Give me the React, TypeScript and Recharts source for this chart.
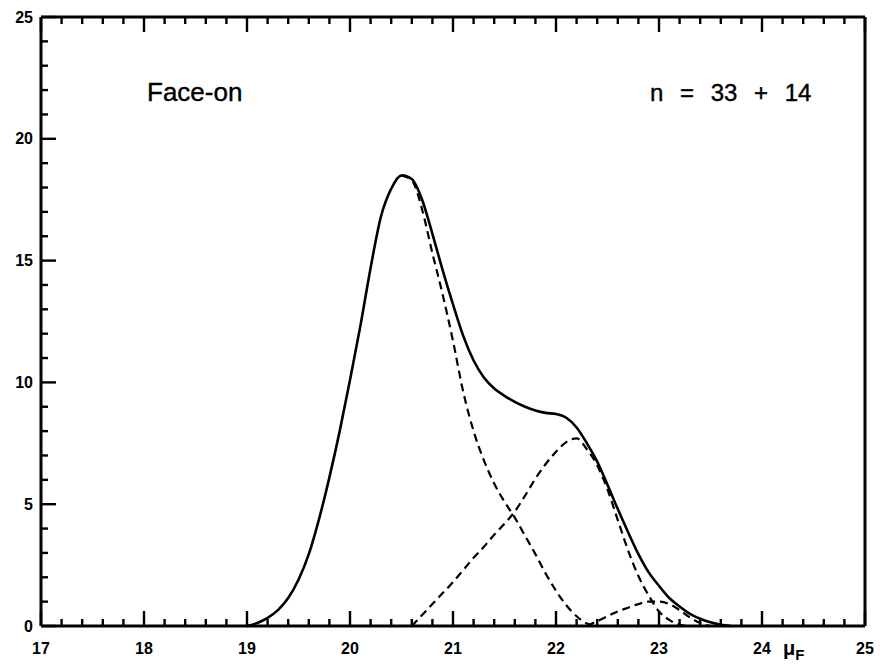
import { Line, LineChart, XAxis, YAxis } from "recharts";

// surface brightness grid (mag/arcsec^2) and the fitted curves
const MU = [
  19.0, 19.1, 19.2, 19.3, 19.4, 19.5, 19.6, 19.7, 19.8, 19.9,
  20.0, 20.1, 20.2, 20.3, 20.4, 20.5, 20.6, 20.7, 20.8, 20.9,
  21.0, 21.1, 21.2, 21.3, 21.4, 21.5, 21.6, 21.7, 21.8, 21.9,
  22.0, 22.1, 22.2, 22.3, 22.4, 22.5, 22.6, 22.7, 22.8, 22.9,
  23.0, 23.1, 23.2, 23.3, 23.4, 23.5, 23.6, 23.7,
];

const TOTAL = [
  0, 0.12, 0.33, 0.65, 1.15, 1.9, 2.95, 4.4, 6.1, 8.0,
  10.1, 12.3, 14.7, 16.8, 17.95, 18.5, 18.35, 17.5, 16.1, 14.6,
  13.2, 11.9, 10.9, 10.2, 9.75, 9.45, 9.2, 9.0, 8.85, 8.75,
  8.7, 8.55, 8.15, 7.5, 6.75, 5.8, 4.8, 3.85, 2.95, 2.2,
  1.65, 1.15, 0.8, 0.5, 0.3, 0.15, 0.05, 0,
];

// components: padded with null where the dashed curve isn't drawn
const COMP_BRIGHT = [
  ...Array(15).fill(null),
  18.5, 18.3, 17.1, 15.3, 13.6, 11.7, 9.6, 8.0, 6.8, 5.85,
  5.1, 4.45, 3.7, 2.95, 2.15, 1.45, 0.85, 0.4, 0.1, 0,
  ...Array(13).fill(null),
];

const COMP_FAINT = [
  ...Array(16).fill(null),
  0, 0.45, 0.9, 1.35, 1.8, 2.3, 2.8, 3.25, 3.75, 4.2,
  4.7, 5.35, 6.05, 6.65, 7.15, 7.55, 7.7, 7.25, 6.6, 5.6,
  4.35, 3.1, 2.05, 1.25, 0.6, 0.25, 0.05, 0,
  ...Array(4).fill(null),
];

const COMP_TAIL = [
  ...Array(33).fill(null),
  0, 0.2, 0.4, 0.6, 0.75, 0.9, 1.0, 1.0, 0.9, 0.65, 0.35, 0.12, 0,
  ...Array(2).fill(null),
];

const X_TICKS = [
  17, 17.2, 17.4, 17.6, 17.8, 18, 18.2, 18.4, 18.6, 18.8,
  19, 19.2, 19.4, 19.6, 19.8, 20, 20.2, 20.4, 20.6, 20.8,
  21, 21.2, 21.4, 21.6, 21.8, 22, 22.2, 22.4, 22.6, 22.8,
  23, 23.2, 23.4, 23.6, 23.8, 24, 24.2, 24.4, 24.6, 24.8, 25,
];
const Y_TICKS = [
  0, 1, 2, 3, 4, 5, 6, 7, 8, 9, 10, 11, 12, 13, 14, 15, 16, 17, 18, 19,
  20, 21, 22, 23, 24, 25,
];

const data = MU.map((mu, i) => ({
  mu,
  total: TOTAL[i],
  bright: COMP_BRIGHT[i],
  faint: COMP_FAINT[i],
  tail: COMP_TAIL[i],
}));

const FONT = "'Liberation Sans', Arial, sans-serif";
const MAJOR = 15;
const MINOR = 7;

const isMajor = (v: number, step: number) =>
  Math.abs(v / step - Math.round(v / step)) < 1e-6;

// ticks point into the plot, like the original figure
function BottomTick({ x, y, payload }: any) {
  const major = isMajor(payload.value, 1);
  return (
    <g>
      <line x1={x} x2={x} y1={y} y2={y - (major ? MAJOR : MINOR)} stroke="#000" strokeWidth={2.4} />
      {major && (
        <text x={x} y={y + 22} textAnchor="middle" dominantBaseline="central"
          fontFamily={FONT} fontWeight="bold" fontSize={16} fill="#000">
          {payload.value}
        </text>
      )}
    </g>
  );
}

function TopTick({ x, y, payload }: any) {
  const major = isMajor(payload.value, 1);
  return <line x1={x} x2={x} y1={y} y2={y + (major ? MAJOR : MINOR)} stroke="#000" strokeWidth={2.4} />;
}

function LeftTick({ x, y, payload }: any) {
  const major = isMajor(payload.value, 5);
  return (
    <g>
      <line x1={x} x2={x + (major ? MAJOR : MINOR)} y1={y} y2={y} stroke="#000" strokeWidth={2.4} />
      {major && (
        <text x={x - 8} y={y} textAnchor="end" dominantBaseline="central"
          fontFamily={FONT} fontWeight="bold" fontSize={16} fill="#000">
          {payload.value}
        </text>
      )}
    </g>
  );
}

function RightTick({ x, y, payload }: any) {
  const major = isMajor(payload.value, 5);
  return <line x1={x} x2={x - (major ? MAJOR : MINOR)} y1={y} y2={y} stroke="#000" strokeWidth={2.4} />;
}

const axisLine = { stroke: "#000", strokeWidth: 3 };
const label = { position: "absolute" as const, fontFamily: FONT, lineHeight: 1, color: "#000" };

export default function App() {
  return (
    <div style={{ position: "absolute", left: 0, top: 0, width: 880, height: 671, background: "#fff" }}>
      <LineChart width={880} height={671} data={data}
        margin={{ top: 16, right: 14, bottom: 44, left: 40 }}>
        <XAxis dataKey="mu" type="number" domain={[17, 25]} ticks={X_TICKS} interval={0}
          allowDataOverflow height={1} tickSize={0} tickMargin={0} tickLine={false}
          axisLine={axisLine} tick={<BottomTick />} />
        <XAxis xAxisId="top" orientation="top" dataKey="mu" type="number" domain={[17, 25]}
          ticks={X_TICKS} interval={0} height={1} tickSize={0} tickMargin={0} tickLine={false}
          axisLine={axisLine} tick={<TopTick />} />
        <YAxis type="number" domain={[0, 25]} ticks={Y_TICKS} interval={0} width={1}
          tickSize={0} tickMargin={0} tickLine={false} axisLine={axisLine} tick={<LeftTick />} />
        <YAxis yAxisId="right" orientation="right" type="number" domain={[0, 25]} ticks={Y_TICKS}
          interval={0} width={1} tickSize={0} tickMargin={0} tickLine={false}
          axisLine={axisLine} tick={<RightTick />} />
        <Line dataKey="bright" type="monotone" stroke="#000" strokeWidth={2.2}
          strokeDasharray="8 5" dot={false} isAnimationActive={false} />
        <Line dataKey="faint" type="monotone" stroke="#000" strokeWidth={2.2}
          strokeDasharray="8 5" dot={false} isAnimationActive={false} />
        <Line dataKey="tail" type="monotone" stroke="#000" strokeWidth={2.2}
          strokeDasharray="8 5" dot={false} isAnimationActive={false} />
        <Line dataKey="total" type="monotone" stroke="#000" strokeWidth={2.6}
          dot={false} isAnimationActive={false} />
      </LineChart>
      <div style={{ ...label, left: 147, top: 79, fontSize: 26, WebkitTextStroke: "0.4px #000" }}>
        Face-on
      </div>
      <div style={{ ...label, left: 650, top: 81, fontSize: 24, wordSpacing: 10, WebkitTextStroke: "0.4px #000" }}>
        n = 33 + 14
      </div>
      <div style={{ ...label, left: 783, top: 638, fontWeight: "bold", fontSize: 20 }}>
        μ<span style={{ fontSize: 15, position: "relative", top: 5 }}>F</span>
      </div>
    </div>
  );
}
